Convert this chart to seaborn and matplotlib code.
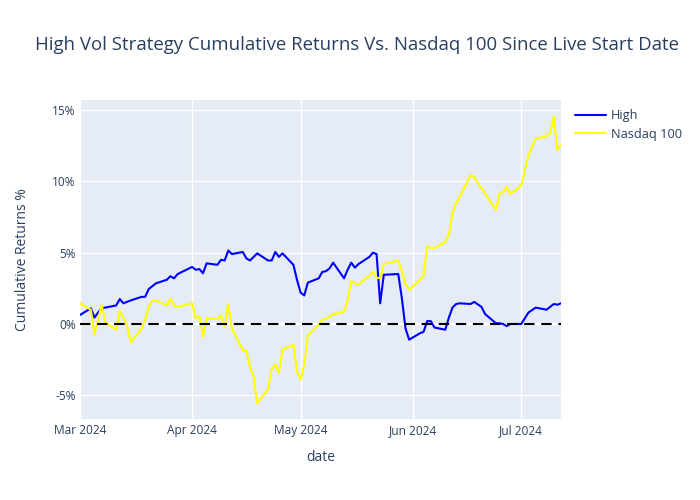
import matplotlib
matplotlib.use("Agg")
import matplotlib.pyplot as plt
import matplotlib.dates as mdates
from matplotlib.ticker import FuncFormatter
import pandas as pd
import seaborn as sns

# ---- data (trading days, cumulative returns in %) ----
mar_days = [1, 4, 5, 6, 7, 8, 11, 12, 13, 14, 15, 18, 19, 20, 21, 22, 25, 26, 27, 28]
apr_days = [1, 2, 3, 4, 5, 8, 9, 10, 11, 12, 15, 16, 17, 18, 19, 22, 23, 24, 25, 26, 29, 30]
may_days = [1, 2, 3, 6, 7, 8, 9, 10, 13, 14, 15, 16, 17, 20, 21, 22, 23, 24, 28, 29, 30, 31]
jun_days = [3, 4, 5, 6, 7, 10, 11, 12, 13, 14, 17, 18, 20, 21, 24, 25, 26, 27, 28]
jul_days = [1, 2, 3, 5, 8, 9, 10, 11, 12]

high = [
    # Mar
    0.63, 1.1, 0.45, 0.8, 1.1, 1.15, 1.3, 1.75, 1.45, 1.55, 1.65, 1.9, 1.9, 2.45, 2.65, 2.85, 3.1, 3.35, 3.2, 3.5,
    # Apr
    4.0, 3.8, 3.85, 3.55, 4.25, 4.15, 4.5, 4.45, 5.15, 4.9, 5.05, 4.6, 4.45, 4.7, 4.95, 4.45, 4.45, 5.05, 4.7, 4.95, 4.15, 3.1,
    # May
    2.2, 2.0, 2.9, 3.2, 3.65, 3.7, 3.9, 4.3, 3.2, 3.8, 4.3, 3.95, 4.2, 4.7, 5.0, 4.9, 1.45, 3.45, 3.5, 1.8, -0.3, -1.1,
    # Jun
    -0.65, -0.55, 0.2, 0.2, -0.25, -0.4, 0.45, 1.15, 1.4, 1.45, 1.4, 1.55, 1.2, 0.7, 0.05, 0.05, 0.0, -0.15, 0.0,
    # Jul
    0.0, 0.4, 0.8, 1.15, 1.0, 1.2, 1.4, 1.35, 1.45,
]

nasdaq = [
    # Mar
    1.45, 1.0, -0.75, 0.3, 1.35, 0.1, -0.4, 0.9, 0.4, -0.1, -1.3, -0.35, 0.3, 1.2, 1.6, 1.65, 1.3, 1.75, 1.3, 1.2,
    # Apr
    1.45, 0.4, 0.55, -0.9, 0.4, 0.35, 0.6, -0.2, 1.4, -0.3, -1.85, -1.85, -3.05, -3.7, -5.55, -4.6, -3.15, -2.85, -3.45, -1.8, -1.45, -3.35,
    # May
    -3.9, -2.85, -0.8, -0.05, 0.3, 0.35, 0.5, 0.7, 0.85, 1.7, 3.0, 2.85, 2.75, 3.4, 3.65, 3.25, 3.2, 4.2, 4.45, 3.7, 2.8, 2.4,
    # Jun
    3.1, 3.35, 5.45, 5.35, 5.3, 5.75, 6.25, 7.8, 8.5, 8.9, 10.45, 10.3, 9.5, 9.15, 8.0, 9.15, 9.25, 9.6, 9.1,
    # Jul
    9.7, 10.75, 11.85, 13.0, 13.15, 13.35, 14.55, 12.2, 12.6,
]

series_names = ["High", "Nasdaq 100"]
y_ticks = [-5, 0, 5, 10, 15]

dates = ([pd.Timestamp(2024, 3, d) for d in mar_days] +
         [pd.Timestamp(2024, 4, d) for d in apr_days] +
         [pd.Timestamp(2024, 5, d) for d in may_days] +
         [pd.Timestamp(2024, 6, d) for d in jun_days] +
         [pd.Timestamp(2024, 7, d) for d in jul_days])

df = pd.concat([
    pd.DataFrame({"date": dates, "value": high, "series": series_names[0]}),
    pd.DataFrame({"date": dates, "value": nasdaq, "series": series_names[1]}),
])

# ---- style ----
sns.set_theme(style="white")
plt.rcParams["font.family"] = ["Open Sans", "DejaVu Sans"]
text_color = "#2a3f5f"

fig = plt.figure(figsize=(7, 5), dpi=100)
ax = fig.add_axes([80 / 700, 81 / 500, 481 / 700, 319 / 500])
ax.set_facecolor("#E5ECF6")
ax.set_axisbelow(True)
for s in ax.spines.values():
    s.set_visible(False)

ax.grid(True, color="white", linewidth=1.0)
ax.axhline(0, color="white", linewidth=1.6, zorder=1)

sns.lineplot(data=df, x="date", y="value", hue="series",
             palette={"High": "#0000ff", "Nasdaq 100": "#ffff00"},
             linewidth=1.5, ax=ax, legend=True, zorder=3)

ax.axhline(0, color="black", linewidth=1.5, linestyle=(0, (5, 3.2)), zorder=4)

ax.set_xlim(pd.Timestamp(2024, 3, 1), pd.Timestamp(2024, 7, 12))
ax.set_ylim(-6.66, 15.7)
ax.set_yticks(y_ticks)
ax.yaxis.set_major_formatter(FuncFormatter(lambda v, p: f"{v:g}%"))
ax.xaxis.set_major_locator(mdates.MonthLocator())
ax.xaxis.set_major_formatter(mdates.DateFormatter("%b %Y"))
ax.tick_params(axis="both", length=0, labelsize=8.6, labelcolor=text_color)
ax.tick_params(axis="x", pad=3.5)
ax.tick_params(axis="y", pad=3)

ax.set_xlabel("date", fontsize=10, color=text_color, labelpad=9.5)
ax.set_ylabel("Cumulative Returns %", fontsize=10, color=text_color, labelpad=16)

fig.text(35 / 700, 1 - 45 / 500,
         "High Vol Strategy Cumulative Returns Vs. Nasdaq 100 Since Live Start Date",
         fontsize=13.4, color=text_color, ha="left", va="center")

leg = ax.legend(loc="upper left", bbox_to_anchor=(570 / 700, 1 - 104 / 500),
                bbox_transform=fig.transFigure, frameon=False, fontsize=9.2,
                handlelength=2.45, handletextpad=0.35, labelspacing=0.45,
                borderaxespad=0)
for t in leg.get_texts():
    t.set_color(text_color)
for l in leg.get_lines():
    l.set_linewidth(1.5)

fig.savefig("out.png", dpi=100, facecolor="white")
